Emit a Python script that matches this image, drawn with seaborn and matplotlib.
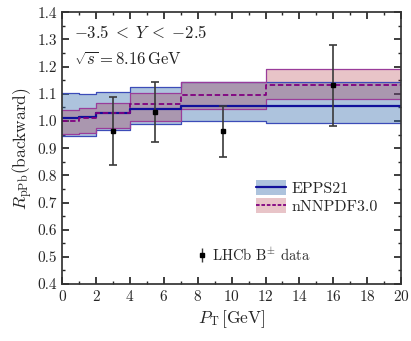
# Nuclear modification factor R_pPb (backward) vs pT, EPPS21 / nNNPDF3.0 vs LHCb data

import matplotlib
matplotlib.use("Agg")
import matplotlib.pyplot as plt
from matplotlib.patches import Patch
from matplotlib.lines import Line2D
from matplotlib.ticker import MultipleLocator
import seaborn as sns
import numpy as np
import pandas as pd

# bin edges in pT [GeV]
pt_edges = [0, 1, 2, 4, 7, 12, 20]

# EPPS21 band
epps_central = [1.012, 1.016, 1.028, 1.045, 1.056, 1.055]
epps_low = [0.945, 0.945, 0.967, 0.989, 1.000, 0.991]
epps_high = [1.102, 1.098, 1.106, 1.124, 1.142, 1.145]

# nNNPDF3.0 band
nnpdf_central = [1.001, 1.010, 1.028, 1.062, 1.096, 1.133]
nnpdf_low = [0.951, 0.955, 0.975, 1.001, 1.043, 1.081]
nnpdf_high = [1.040, 1.047, 1.065, 1.102, 1.142, 1.190]

# LHCb B+- data
data_pt = [3.0, 5.5, 9.5, 16.0]
data_r = [0.963, 1.032, 0.963, 1.132]
data_lo = [0.837, 0.921, 0.868, 0.982]
data_hi = [1.087, 1.143, 1.055, 1.281]

sns.set_theme(style="ticks")
plt.rcParams.update({
    "font.family": "serif",
    "font.serif": ["cmr10", "DejaVu Serif"],
    "mathtext.fontset": "cm",
    "axes.formatter.use_mathtext": True,
    "font.size": 10.5,
    "xtick.direction": "in",
    "ytick.direction": "in",
    "xtick.top": True,
    "ytick.right": True,
    "xtick.major.size": 5,
    "ytick.major.size": 5,
    "xtick.minor.size": 2.5,
    "ytick.minor.size": 2.5,
    "xtick.labelsize": 11,
    "ytick.labelsize": 11,
    "axes.edgecolor": "#333333",
})


def step_frame(central, name):
    # repeat the last value so steps-post reaches the last edge
    return pd.DataFrame({"pt": pt_edges, "R": list(central) + [central[-1]], "set": name})


blue_fill = "#326bac"
blue_edge = "#3c4cb8"
blue_line = "#10109a"
pink_fill = "#a41426"
pink_edge = "#9a3c9a"
pink_line = "#800080"

fig = plt.figure(figsize=(4.11, 3.41), dpi=100)
ax = fig.add_axes([0.151, 0.167, 0.825, 0.797])

lo_e = list(epps_low) + [epps_low[-1]]
hi_e = list(epps_high) + [epps_high[-1]]
ax.fill_between(pt_edges, lo_e, hi_e, step="post", facecolor=blue_fill, alpha=0.4, lw=0)
ax.step(pt_edges, lo_e, where="post", color=blue_edge, lw=0.9)
ax.step(pt_edges, hi_e, where="post", color=blue_edge, lw=0.9)

lo_n = list(nnpdf_low) + [nnpdf_low[-1]]
hi_n = list(nnpdf_high) + [nnpdf_high[-1]]
ax.fill_between(pt_edges, lo_n, hi_n, step="post", facecolor=pink_fill, alpha=0.25, lw=0)
ax.step(pt_edges, lo_n, where="post", color=pink_edge, lw=0.9)
ax.step(pt_edges, hi_n, where="post", color=pink_edge, lw=0.9)

sns.lineplot(data=step_frame(epps_central, "EPPS21"), x="pt", y="R", ax=ax,
             drawstyle="steps-post", color=blue_line, lw=1.6, legend=False)
sns.lineplot(data=step_frame(nnpdf_central, "nNNPDF3.0"), x="pt", y="R", ax=ax,
             drawstyle="steps-post", color=pink_line, lw=1.3, ls=(0, (3, 1.5)), legend=False)

yerr = [np.array(data_r) - np.array(data_lo), np.array(data_hi) - np.array(data_r)]
ax.errorbar(data_pt, data_r, yerr=yerr, fmt="s", color="black", ms=3.5,
            ecolor="#3a3a3a", elinewidth=1.2, capsize=3, capthick=1.2, zorder=5)

ax.set_xlim(0, 20)
ax.set_ylim(0.4, 1.4)
ax.xaxis.set_major_locator(MultipleLocator(2))
ax.xaxis.set_minor_locator(MultipleLocator(1))
ax.yaxis.set_major_locator(MultipleLocator(0.1))
ax.yaxis.set_minor_locator(MultipleLocator(0.05))
ax.yaxis.set_major_formatter(matplotlib.ticker.FormatStrFormatter("%.1f"))

ax.set_xlabel(r"$P_{\mathrm{T}}\,[\mathrm{GeV}]$", fontsize=12.5, labelpad=3)
ax.set_ylabel(r"$R_{\mathrm{pPb}}(\mathrm{backward})$", fontsize=12.5, labelpad=2)

ax.text(0.035, 0.905, r"${-}3.5\;<\;Y\;<\;{-}2.5$", transform=ax.transAxes, fontsize=12, color="#222222")
ax.text(0.035, 0.805, r"$\sqrt{s} = 8.16\,\mathrm{GeV}$", transform=ax.transAxes, fontsize=12, color="#222222")

h_epps = (Patch(facecolor=blue_fill, alpha=0.4, lw=0), Line2D([], [], color=blue_line, lw=1.6))
h_nnpdf = (Patch(facecolor=pink_fill, alpha=0.25, lw=0), Line2D([], [], color=pink_line, lw=1.3, ls=(0, (2, 1))))

h_data = ax.errorbar([], [], yerr=[], fmt="s", color="black", ms=2.5,
                     ecolor="#3a3a3a", elinewidth=1, capsize=2)
leg2 = ax.legend([h_data], [r"LHCb B$^{\pm}$ data"], loc="upper left",
                 bbox_to_anchor=(0.36, 0.19), frameon=False, fontsize=10.5,
                 handlelength=0.6, handletextpad=0.4)
ax.add_artist(leg2)
ax.legend([h_epps, h_nnpdf], ["EPPS21", "nNNPDF3.0"], loc="upper left",
          bbox_to_anchor=(0.53, 0.435), frameon=False, fontsize=11.5,
          handlelength=1.9, handleheight=1.0, handletextpad=0.3, labelspacing=0.15)

fig.savefig("out.png", dpi=100)
